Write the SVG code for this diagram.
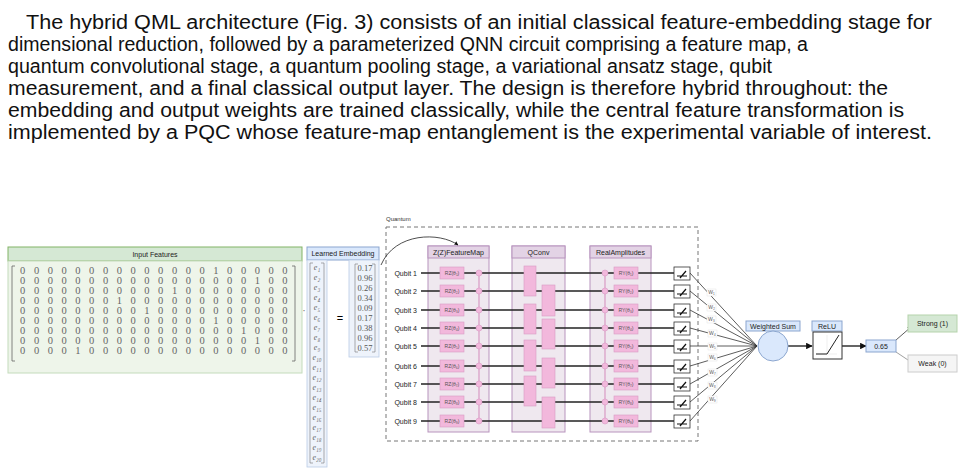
<svg xmlns="http://www.w3.org/2000/svg" width="963" height="473" viewBox="0 0 963 473">
<defs>
<style>
.p{font-family:"Liberation Sans",Arial,sans-serif;font-size:19.5px;fill:#111}
.s{font-family:"Liberation Sans",Arial,sans-serif;font-size:7px;fill:#222}
.m{font-family:"Liberation Serif",serif;font-size:10.5px;fill:#666;text-anchor:middle}
.e{font-family:"Liberation Serif",serif;font-size:8px;fill:#666;text-anchor:middle;font-style:italic}
.v{font-family:"Liberation Serif",serif;font-size:8.5px;fill:#555;text-anchor:middle}
.g{font-family:"Liberation Sans",Arial,sans-serif;font-size:5px;fill:#555;text-anchor:middle}
.ln{stroke:#222;stroke-width:1.3}
.rz{fill:#f2b8dc;stroke:#d89ac4;stroke-width:.6}
.col{fill:#efe8ef;stroke:#b894bd;stroke-width:1}
.hd{fill:#e3d3e5;stroke:#b894bd;stroke-width:1}
.dot{fill:#f2b8dc;stroke:#d89ac4;stroke-width:.6}
.wl{stroke:#333;stroke-width:.8;fill:none}
.bl{fill:#dae8fc;stroke:#8ba6cf;stroke-width:1}
</style>
<marker id="ar" viewBox="0 0 10 10" refX="9" refY="5" markerWidth="5" markerHeight="5" orient="auto"><path d="M0 0L10 5L0 10z" fill="#111"/></marker>
<marker id="ag" viewBox="0 0 10 10" refX="9" refY="5" markerWidth="4" markerHeight="4" orient="auto"><path d="M0 0L10 5L0 10z" fill="#888"/></marker>
</defs>
<rect width="963" height="473" fill="#fff"/>
<g id="paragraph">
<text class="p" x="26" y="29" textLength="906" lengthAdjust="spacingAndGlyphs">The hybrid QML architecture (Fig. 3) consists of an initial classical feature-embedding stage for</text>
<text class="p" x="8" y="51" textLength="800" lengthAdjust="spacingAndGlyphs">dimensional reduction, followed by a parameterized QNN circuit comprising a feature map, a</text>
<text class="p" x="8" y="73" textLength="764" lengthAdjust="spacingAndGlyphs">quantum convolutional stage, a quantum pooling stage, a variational ansatz stage, qubit</text>
<text class="p" x="8" y="95" textLength="880" lengthAdjust="spacingAndGlyphs">measurement, and a final classical output layer. The design is therefore hybrid throughout: the</text>
<text class="p" x="8" y="117" textLength="896" lengthAdjust="spacingAndGlyphs">embedding and output weights are trained classically, while the central feature transformation is</text>
<text class="p" x="8" y="139" textLength="924" lengthAdjust="spacingAndGlyphs">implemented by a PQC whose feature-map entanglement is the experimental variable of interest.</text>
</g>
<g id="input-features">
<rect x="8" y="247" width="294" height="14" fill="#d5e8d4" stroke="#82b366"/>
<text class="s" x="155" y="256.5" text-anchor="middle">Input Features</text>
<rect x="8" y="261" width="294" height="112" fill="#eef5ea" stroke="#c4dbbc"/>
<path d="M15 266h-3v95h3M292 266h3v95h-3" fill="none" stroke="#666" stroke-width=".8"/>
<g class="m">
<text x="22.7 36.5 50.3 64.1 77.9 91.7 105.5 119.3 133.1 146.9 160.7 174.5 188.3 202.1 215.9 229.7 243.5 257.3 271.1 284.9" y="274">00000000000000100000</text>
<text x="22.7 36.5 50.3 64.1 77.9 91.7 105.5 119.3 133.1 146.9 160.7 174.5 188.3 202.1 215.9 229.7 243.5 257.3 271.1 284.9" y="284">00000000000000000100</text>
<text x="22.7 36.5 50.3 64.1 77.9 91.7 105.5 119.3 133.1 146.9 160.7 174.5 188.3 202.1 215.9 229.7 243.5 257.3 271.1 284.9" y="294">00000000000100000000</text>
<text x="22.7 36.5 50.3 64.1 77.9 91.7 105.5 119.3 133.1 146.9 160.7 174.5 188.3 202.1 215.9 229.7 243.5 257.3 271.1 284.9" y="304">00000001000000000000</text>
<text x="22.7 36.5 50.3 64.1 77.9 91.7 105.5 119.3 133.1 146.9 160.7 174.5 188.3 202.1 215.9 229.7 243.5 257.3 271.1 284.9" y="314">00000000010000000000</text>
<text x="22.7 36.5 50.3 64.1 77.9 91.7 105.5 119.3 133.1 146.9 160.7 174.5 188.3 202.1 215.9 229.7 243.5 257.3 271.1 284.9" y="324">00000000000000100000</text>
<text x="22.7 36.5 50.3 64.1 77.9 91.7 105.5 119.3 133.1 146.9 160.7 174.5 188.3 202.1 215.9 229.7 243.5 257.3 271.1 284.9" y="334">00000000000000001000</text>
<text x="22.7 36.5 50.3 64.1 77.9 91.7 105.5 119.3 133.1 146.9 160.7 174.5 188.3 202.1 215.9 229.7 243.5 257.3 271.1 284.9" y="344">00000000000000000100</text>
<text x="22.7 36.5 50.3 64.1 77.9 91.7 105.5 119.3 133.1 146.9 160.7 174.5 188.3 202.1 215.9 229.7 243.5 257.3 271.1 284.9" y="354">00001000000000000000</text>
</g>
<text class="m" x="304" y="314">·</text>
</g>
<g id="learned-embedding">
<rect x="307" y="247" width="72" height="13" class="bl"/>
<text class="s" x="343" y="256" text-anchor="middle">Learned Embedding</text>
<rect x="307" y="260" width="20" height="207" fill="#eef3fb" stroke="#b9cbe6" stroke-width=".8"/>
<path d="M313 263h-3v200h3M321 263h3v200h-3" fill="none" stroke="#777" stroke-width=".6"/>
<g class="e">
<text x="317" y="270">e₁</text><text x="317" y="280">e₂</text><text x="317" y="290">e₃</text><text x="317" y="300">e₄</text><text x="317" y="310">e₅</text><text x="317" y="320">e₆</text><text x="317" y="330">e₇</text><text x="317" y="340">e₈</text><text x="317" y="350">e₉</text><text x="317" y="360">e₁₀</text><text x="317" y="370">e₁₁</text><text x="317" y="380">e₁₂</text><text x="317" y="390">e₁₃</text><text x="317" y="400">e₁₄</text><text x="317" y="410">e₁₅</text><text x="317" y="420">e₁₆</text><text x="317" y="430">e₁₇</text><text x="317" y="440">e₁₈</text><text x="317" y="450">e₁₉</text><text x="317" y="460">e₂₀</text>
</g>
<text x="340" y="322" font-family="Liberation Sans,sans-serif" font-size="11" text-anchor="middle">=</text>
<rect x="349" y="260" width="30" height="97" fill="#eef3fb" stroke="#b9cbe6" stroke-width=".8"/>
<path d="M358 264h-3v88h3M372 264h3v88h-3" fill="none" stroke="#777" stroke-width=".6"/>
<g class="v">
<text x="365" y="271">0.17</text><text x="365" y="281">0.96</text><text x="365" y="291">0.26</text><text x="365" y="301">0.34</text><text x="365" y="311">0.09</text><text x="365" y="321">0.17</text><text x="365" y="331">0.38</text><text x="365" y="341">0.96</text><text x="365" y="351">0.57</text>
</g>
</g>
<g id="quantum">
<text x="386" y="221" font-family="Liberation Sans,sans-serif" font-size="6" fill="#333">Quantum</text>
<rect x="386" y="227" width="312" height="214" fill="none" stroke="#777" stroke-dasharray="4 3"/>
<rect x="428" y="246" width="61" height="186" class="col"/><rect x="428" y="246" width="61" height="12" class="hd"/>
<text class="s" x="458.5" y="255" text-anchor="middle">Z(Z)FeatureMap</text>
<rect x="512" y="246" width="53" height="186" class="col"/><rect x="512" y="246" width="53" height="12" class="hd"/>
<text class="s" x="538.5" y="255" text-anchor="middle">QConv</text>
<rect x="590" y="246" width="61" height="186" class="col"/><rect x="590" y="246" width="61" height="12" class="hd"/>
<text class="s" x="620.5" y="255" text-anchor="middle">RealAmplitudes</text>
<g class="ln">
<line x1="421" y1="273" x2="674" y2="273"/><line x1="421" y1="291" x2="674" y2="291"/><line x1="421" y1="310" x2="674" y2="310"/><line x1="421" y1="328" x2="674" y2="328"/><line x1="421" y1="346" x2="674" y2="346"/><line x1="421" y1="366" x2="674" y2="366"/><line x1="421" y1="384" x2="674" y2="384"/><line x1="421" y1="402" x2="674" y2="402"/><line x1="421" y1="421" x2="674" y2="421"/>
</g>
<g class="s" text-anchor="end">
<text x="417" y="275.5">Qubit 1</text><text x="417" y="293.5">Qubit 2</text><text x="417" y="312.5">Qubit 3</text><text x="417" y="330.5">Qubit 4</text><text x="417" y="348.5">Qubit 5</text><text x="417" y="368.5">Qubit 6</text><text x="417" y="386.5">Qubit 7</text><text x="417" y="404.5">Qubit 8</text><text x="417" y="423.5">Qubit 9</text>
</g>
<line x1="479" y1="273" x2="479" y2="421" stroke="#d89ac4" stroke-width="1.2"/>
<line x1="605" y1="273" x2="605" y2="421" stroke="#d89ac4" stroke-width="1.2"/>
<g id="rz">
<rect class="rz" x="440" y="267" width="24" height="12"/><rect class="rz" x="440" y="285" width="24" height="12"/><rect class="rz" x="440" y="304" width="24" height="12"/><rect class="rz" x="440" y="322" width="24" height="12"/><rect class="rz" x="440" y="340" width="24" height="12"/><rect class="rz" x="440" y="360" width="24" height="12"/><rect class="rz" x="440" y="378" width="24" height="12"/><rect class="rz" x="440" y="396" width="24" height="12"/><rect class="rz" x="440" y="415" width="24" height="12"/>
<g class="g"><text x="452" y="275">RZ(θ₁)</text><text x="452" y="293">RZ(θ₂)</text><text x="452" y="312">RZ(θ₃)</text><text x="452" y="330">RZ(θ₄)</text><text x="452" y="348">RZ(θ₅)</text><text x="452" y="368">RZ(θ₆)</text><text x="452" y="386">RZ(θ₇)</text><text x="452" y="404">RZ(θ₈)</text><text x="452" y="423">RZ(θ₉)</text></g>
</g>
<g id="ry">
<rect class="rz" x="614" y="267" width="24" height="12"/><rect class="rz" x="614" y="285" width="24" height="12"/><rect class="rz" x="614" y="304" width="24" height="12"/><rect class="rz" x="614" y="322" width="24" height="12"/><rect class="rz" x="614" y="340" width="24" height="12"/><rect class="rz" x="614" y="360" width="24" height="12"/><rect class="rz" x="614" y="378" width="24" height="12"/><rect class="rz" x="614" y="396" width="24" height="12"/><rect class="rz" x="614" y="415" width="24" height="12"/>
<g class="g"><text x="626" y="275">RY(θ₁)</text><text x="626" y="293">RY(θ₂)</text><text x="626" y="312">RY(θ₃)</text><text x="626" y="330">RY(θ₄)</text><text x="626" y="348">RY(θ₅)</text><text x="626" y="368">RY(θ₆)</text><text x="626" y="386">RY(θ₇)</text><text x="626" y="404">RY(θ₈)</text><text x="626" y="423">RY(θ₉)</text></g>
</g>
<g id="dots">
<circle class="dot" cx="479" cy="273" r="3"/><circle class="dot" cx="479" cy="291" r="3"/><circle class="dot" cx="479" cy="310" r="3"/><circle class="dot" cx="479" cy="328" r="3"/><circle class="dot" cx="479" cy="346" r="3"/><circle class="dot" cx="479" cy="366" r="3"/><circle class="dot" cx="479" cy="384" r="3"/><circle class="dot" cx="479" cy="402" r="3"/><circle class="dot" cx="479" cy="421" r="3"/>
<circle class="dot" cx="605" cy="273" r="3"/><circle class="dot" cx="605" cy="291" r="3"/><circle class="dot" cx="605" cy="310" r="3"/><circle class="dot" cx="605" cy="328" r="3"/><circle class="dot" cx="605" cy="346" r="3"/><circle class="dot" cx="605" cy="366" r="3"/><circle class="dot" cx="605" cy="384" r="3"/><circle class="dot" cx="605" cy="402" r="3"/><circle class="dot" cx="605" cy="421" r="3"/>
</g>
<g id="qconv-gates">
<rect class="rz" x="524" y="266" width="12" height="30"/><rect class="rz" x="524" y="304" width="12" height="30"/><rect class="rz" x="524" y="340" width="12" height="31"/><rect class="rz" x="524" y="376" width="12" height="30"/>
<rect class="rz" x="542" y="285" width="13" height="31"/><rect class="rz" x="542" y="319" width="13" height="30"/><rect class="rz" x="542" y="358" width="13" height="30"/><rect class="rz" x="542" y="397" width="13" height="31"/>
</g>
<g id="measure" fill="#fff" stroke="#333" stroke-width=".8">
<rect x="674" y="267" width="16" height="13"/><rect x="674" y="285" width="16" height="13"/><rect x="674" y="304" width="16" height="13"/><rect x="674" y="322" width="16" height="13"/><rect x="674" y="340" width="16" height="13"/><rect x="674" y="360" width="16" height="13"/><rect x="674" y="378" width="16" height="13"/><rect x="674" y="396" width="16" height="13"/><rect x="674" y="415" width="16" height="13"/>
<path d="M677 276h10M680 278l6-7M677 294h10M680 296l6-7M677 313h10M680 315l6-7M677 331h10M680 333l6-7M677 349h10M680 351l6-7M677 369h10M680 371l6-7M677 387h10M680 389l6-7M677 405h10M680 407l6-7M677 424h10M680 426l6-7" fill="none" stroke="#111" stroke-width="1.2"/>
</g>
</g>
<g id="connectors">
<path d="M381 265C395 232 440 232 458 245" fill="none" stroke="#222" stroke-width=".8" marker-end="url(#ar)"/>
<g class="wl">
<path d="M690 273L757 346M690 291L757 346M690 310L757 346M690 328L757 346M690 346L757 346M690 366L757 346M690 384L757 346M690 402L757 346M690 421L757 346"/>
</g>
<line x1="788" y1="346" x2="812" y2="346" stroke="#111" stroke-width="1.3" marker-end="url(#ar)"/>
<line x1="842" y1="346" x2="866" y2="346" stroke="#111" stroke-width="1.3" marker-end="url(#ar)"/>
<line x1="896" y1="340" x2="911" y2="327" stroke="#333" stroke-width=".8" marker-end="url(#ar)"/>
<line x1="896" y1="352" x2="911" y2="362" stroke="#888" stroke-width=".8" marker-end="url(#ag)"/>
</g>
<g id="weights" class="g" font-size="4.5">
<g fill="#fff" stroke="#ddd" stroke-width=".4"><rect x="707" y="289" width="9" height="7"/><rect x="707" y="304" width="9" height="7"/><rect x="707" y="316" width="9" height="7"/><rect x="708" y="330" width="9" height="7"/><rect x="708" y="343" width="9" height="7"/><rect x="708" y="354" width="9" height="7"/><rect x="708" y="369" width="9" height="7"/><rect x="708" y="382" width="9" height="7"/><rect x="708" y="396" width="9" height="7"/></g>
<text x="711.5" y="294">W₁</text><text x="711.5" y="309">W₂</text><text x="711.5" y="321">W₃</text><text x="712.5" y="335">W₄</text><text x="712.5" y="348">W₅</text><text x="712.5" y="359">W₆</text><text x="712.5" y="374">W₇</text><text x="712.5" y="387">W₈</text><text x="712.5" y="401">W₉</text>
</g>
<g id="weighted-sum">
<rect x="746" y="321" width="54" height="10" class="bl"/>
<text class="s" x="773" y="328.5" text-anchor="middle">Weighted Sum</text>
<circle cx="773" cy="346" r="15" class="bl"/>
</g>
<g id="relu">
<rect x="812" y="321" width="30" height="10" class="bl"/>
<text class="s" x="827" y="328.5" text-anchor="middle">ReLU</text>
<rect x="813" y="332" width="29" height="27" fill="#fff" stroke="#333"/>
<path d="M816 354h21M827 335v19" stroke="#ddd" stroke-width=".5"/>
<path d="M816 354h11l12-19" fill="none" stroke="#222" stroke-width="1"/>
</g>
<g id="output">
<rect x="866" y="340" width="30" height="12" class="bl"/>
<text class="s" x="881" y="348.5" text-anchor="middle">0.65</text>
</g>
<g id="strong">
<rect x="908" y="315" width="49" height="17" fill="#d5e8d4" stroke="#b5d3ac"/>
<text class="s" x="932.5" y="326" text-anchor="middle">Strong (1)</text>
</g>
<g id="weak">
<rect x="908" y="355" width="49" height="17" fill="#f5f5f5" stroke="#ccc"/>
<text class="s" x="932.5" y="366" text-anchor="middle" fill="#999">Weak (0)</text>
</g>
</svg>
